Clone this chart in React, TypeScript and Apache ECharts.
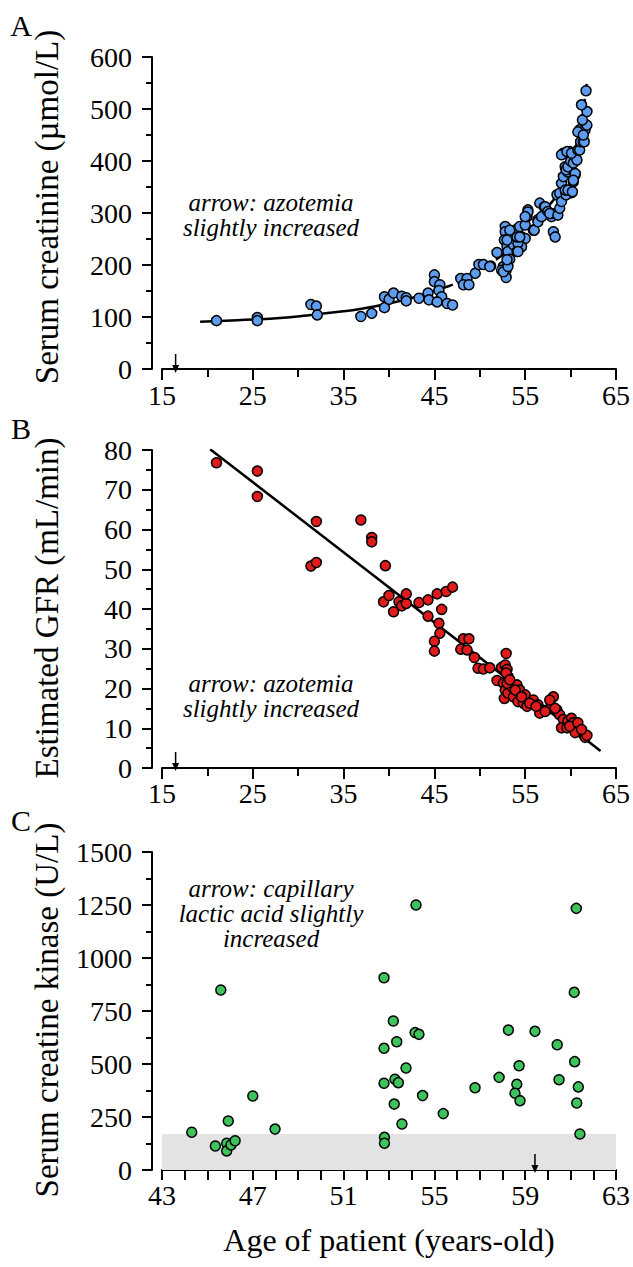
import React, { useEffect, useRef } from "react";
import * as echarts from "echarts";

// ---------- DATA ----------
// Panel A: serum creatinine (µmol/L) vs age
const CREATININE_POINTS: [number, number][] = [
  [21.0, 93], [25.5, 99], [25.5, 93], [31.4, 124], [32.0, 121], [32.1, 104],
  [36.9, 101], [38.1, 107], [39.5, 118], [39.5, 139], [40.0, 134], [40.5, 146],
  [41.4, 140], [41.9, 137], [41.9, 131], [43.3, 136], [44.3, 146], [44.4, 133],
  [45.0, 181], [45.0, 168], [45.6, 162], [45.5, 151], [45.8, 139], [45.3, 129],
  [46.4, 126], [47.0, 123], [47.9, 174], [48.6, 174], [48.2, 162], [48.8, 162],
  [49.5, 184], [49.9, 201], [50.4, 201], [51.2, 198], [51.1, 197], [51.9, 224],
  [52.8, 274], [52.8, 264], [52.7, 248], [53.0, 235], [53.1, 226], [53.3, 211],
  [52.6, 197], [52.9, 190], [52.9, 176], [52.4, 190], [52.6, 187], [53.1, 197],
  [53.0, 210], [53.3, 254], [53.7, 239], [54.1, 226], [53.9, 267], [54.4, 274],
  [54.6, 254], [55.0, 277], [55.2, 293], [55.3, 306], [55.0, 251], [54.6, 235],
  [54.2, 242], [54.1, 254], [53.3, 267], [53.0, 248], [54.2, 226], [55.3, 302],
  [55.0, 293], [54.4, 254], [55.9, 267], [56.0, 267], [56.4, 287], [56.4, 283],
  [56.6, 319], [57.1, 312], [57.2, 312], [56.8, 293], [57.5, 303], [57.9, 293],
  [57.9, 299], [58.1, 264], [58.3, 254], [57.7, 299], [58.6, 296], [58.8, 309],
  [59.0, 325], [58.5, 335], [58.8, 338], [59.0, 322], [59.0, 357], [59.2, 370],
  [59.4, 389], [59.7, 379], [60.5, 373], [60.3, 360], [60.1, 339], [59.5, 335],
  [59.5, 383], [59.7, 389], [60.0, 400], [60.3, 396], [60.5, 376], [60.7, 402],
  [59.4, 344], [59.7, 344], [60.2, 341], [60.3, 363], [59.2, 415], [59.9, 418],
  [59.0, 412], [59.6, 418], [60.1, 415], [60.8, 421], [61.0, 421], [61.1, 437],
  [61.4, 437], [61.5, 437], [61.0, 460], [61.6, 460], [61.8, 469], [61.3, 479],
  [61.8, 495], [61.2, 508], [61.7, 535], [60.8, 456], [61.4, 450],
];
// Fitted curve (solid part, then dashed part)
const CREATININE_CURVE_SOLID: [number, number][] = [
  [19.2, 91], [22, 93], [25, 95], [28, 98], [31, 103], [34, 109], [37, 116],
  [40, 126], [43, 139], [46, 156],
];
const CREATININE_CURVE_DASHED: [number, number][] = [
  [46, 156], [49, 178], [52, 213], [54, 240], [56, 278], [57.5, 312],
  [58.5, 335], [59.5, 372], [60.3, 410], [61, 460], [61.5, 510], [61.8, 555],
];

// Panel B: estimated GFR (mL/min) vs age
const GFR_POINTS: [number, number][] = [
  [21.0, 76.8], [25.5, 74.7], [25.5, 68.3], [32.0, 62.0], [31.4, 50.8], [32.0, 51.7],
  [36.9, 62.4], [38.1, 58.0], [38.1, 56.9], [39.6, 50.9], [39.4, 41.8], [40.0, 43.4],
  [40.5, 39.3], [41.1, 41.8], [41.4, 40.8], [41.9, 41.4], [41.9, 43.8], [43.3, 41.6],
  [44.3, 42.3], [44.3, 38.2], [45.3, 43.8], [46.3, 44.4], [47.0, 45.5], [45.8, 39.9],
  [45.5, 36.4], [45.6, 33.9], [45.0, 31.9], [45.0, 29.4], [48.2, 32.5], [48.8, 32.5],
  [47.9, 29.9], [48.6, 29.7], [49.4, 27.8], [49.8, 25.1], [50.4, 24.9], [51.1, 25.2],
  [51.9, 22.0], [52.9, 28.8], [52.4, 25.3], [52.8, 25.9], [53.0, 24.8], [53.1, 23.0],
  [52.6, 21.3], [52.8, 19.6], [52.7, 17.5], [53.1, 18.8], [53.5, 20.5], [54.1, 20.9],
  [54.4, 19.6], [53.7, 17.9], [54.2, 16.7], [54.8, 16.3], [55.2, 15.5], [55.0, 18.4],
  [55.9, 17.1], [56.4, 15.9], [56.8, 14.6], [56.6, 13.8], [57.4, 14.6], [57.9, 15.5],
  [58.1, 17.9], [57.7, 17.1], [58.5, 14.6], [58.8, 13.4], [59.2, 12.2], [59.0, 10.1],
  [59.7, 11.8], [60.1, 12.5], [60.3, 11.4], [60.7, 10.1], [61.0, 9.3], [61.4, 8.5],
  [61.6, 7.7], [61.8, 8.2], [59.6, 10.1], [60.5, 8.9], [52.9, 23.9], [53.0, 21.3],
  [53.3, 22.2], [53.9, 19.6], [54.6, 17.9], [55.5, 16.3], [56.2, 15.5], [57.2, 14.2],
  [58.3, 15.0], [59.9, 10.5], [60.8, 11.4], [61.2, 9.7],
];
const GFR_FIT: [number, number][] = [[20.3, 80.2], [63.3, 4.3]];

// Panel C: serum creatine kinase (U/L) vs age
const CK_POINTS: [number, number][] = [
  [44.31, 178], [45.59, 849], [45.35, 113], [45.92, 231], [45.85, 126], [45.85, 90],
  [46.04, 118], [46.22, 138], [47.0, 349], [47.98, 193], [52.78, 907], [52.78, 574],
  [52.78, 409], [52.8, 154], [52.8, 126], [53.19, 703], [53.34, 605], [53.23, 311],
  [53.26, 428], [53.41, 412], [53.75, 481], [53.57, 217], [54.19, 1250], [54.15, 648],
  [54.32, 640], [54.48, 351], [55.39, 266], [56.79, 388], [57.85, 437], [58.26, 660],
  [58.73, 492], [58.63, 404], [58.55, 362], [58.77, 327], [59.43, 654], [60.41, 591],
  [60.49, 426], [61.25, 1234], [61.16, 838], [61.18, 511], [61.34, 392], [61.27, 316],
  [61.41, 170],
];
const CK_NORMAL_RANGE = [0, 170];

// Arrow positions (age) for each panel
const ARROW_AGES = [16.5, 16.5, 59.43];

// Tick settings
const X_TICKS_AB = { min: 15, max: 65, interval: 10 };
const X_TICKS_C = { min: 43, max: 63, interval: 1, labelEvery: 4 };
const Y_TICKS = [
  { min: 0, max: 600, interval: 100 },
  { min: 0, max: 80, interval: 10 },
  { min: 0, max: 1500, interval: 250 },
];

const TITLES_Y = [
  "Serum creatinine (µmol/L)",
  "Estimated GFR (mL/min)",
  "Serum creatine kinase (U/L)",
];
const TITLE_X = "Age of patient (years-old)";
const PANEL_LABELS = ["A", "B", "C"];
const NOTES: string[][] = [
  ["arrow: azotemia", "slightly increased"],
  ["arrow: azotemia", "slightly increased"],
  ["arrow: capillary", "lactic acid slightly", "increased"],
];

// ---------- STYLE ----------
const FONT = "Liberation Serif";
const BLUE = "#5e9cf0";
const RED = "#e01b1b";
const GREEN = "#3ec35c";

export default function App() {
  const ref = useRef<HTMLDivElement>(null);

  useEffect(() => {
    if (!ref.current) return;
    const chart = echarts.init(ref.current, undefined, { renderer: "svg" });

    const grids = [
      { left: 162, right: 17, top: 57, height: 312 },
      { left: 162, right: 17, top: 450, height: 318 },
      { left: 162, right: 17, top: 852, height: 318 },
    ];
    const xOffsets = [6, 5, 5];

    const axisLine = { show: true, lineStyle: { color: "#000", width: 2 } };
    const labelStyle = { color: "#000", fontSize: 28, fontFamily: FONT };

    const xAxis = [0, 1, 2].map((i) => {
      const isC = i === 2;
      const t = isC ? X_TICKS_C : X_TICKS_AB;
      return {
        type: "value",
        gridIndex: i,
        min: t.min,
        max: t.max,
        interval: t.interval,
        offset: xOffsets[i],
        axisLine,
        axisTick: { show: true, length: isC ? 10 : 11, lineStyle: { color: "#000", width: 2 } },
        minorTick: isC
          ? { show: false }
          : { show: true, splitNumber: 2, length: 8, lineStyle: { color: "#000", width: 2 } },
        splitLine: { show: false },
        minorSplitLine: { show: false },
        axisLabel: {
          ...labelStyle,
          margin: 6,
          formatter: (v: number) =>
            isC
              ? Math.round(v - X_TICKS_C.min) % X_TICKS_C.labelEvery === 0
                ? String(v)
                : ""
              : String(v),
        },
      };
    });

    const yAxis = [0, 1, 2].map((i) => ({
      type: "value",
      gridIndex: i,
      min: Y_TICKS[i].min,
      max: Y_TICKS[i].max,
      interval: Y_TICKS[i].interval,
      offset: 10,
      axisLine,
      axisTick: { show: true, length: 10, lineStyle: { color: "#000", width: 2 } },
      minorTick: { show: true, splitNumber: 2, length: 6, lineStyle: { color: "#000", width: 2 } },
      splitLine: { show: false },
      minorSplitLine: { show: false },
      axisLabel: { ...labelStyle, margin: 20, formatter: (v: number) => String(v) },
    }));

    const scatterStyle = (c: string) => ({
      color: c,
      borderColor: "#000",
      borderWidth: 1.5,
      opacity: 1,
    });

    const series: any[] = [
      {
        type: "line",
        xAxisIndex: 0,
        yAxisIndex: 0,
        data: CREATININE_CURVE_SOLID,
        smooth: true,
        showSymbol: false,
        lineStyle: { color: "#000", width: 2.5 },
        z: 1,
      },
      {
        type: "line",
        xAxisIndex: 0,
        yAxisIndex: 0,
        data: CREATININE_CURVE_DASHED,
        smooth: true,
        showSymbol: false,
        lineStyle: { color: "#000", width: 2.5, type: [10, 5] },
        z: 1,
      },
      {
        type: "scatter",
        xAxisIndex: 0,
        yAxisIndex: 0,
        data: CREATININE_POINTS,
        symbolSize: 10,
        itemStyle: scatterStyle(BLUE),
        z: 3,
      },
      {
        type: "line",
        xAxisIndex: 1,
        yAxisIndex: 1,
        data: GFR_FIT,
        showSymbol: false,
        lineStyle: { color: "#000", width: 2.5 },
        z: 1,
      },
      {
        type: "scatter",
        xAxisIndex: 1,
        yAxisIndex: 1,
        data: GFR_POINTS,
        symbolSize: 10,
        itemStyle: scatterStyle(RED),
        z: 3,
      },
      {
        type: "scatter",
        xAxisIndex: 2,
        yAxisIndex: 2,
        data: CK_POINTS,
        symbolSize: 10,
        itemStyle: scatterStyle(GREEN),
        z: 3,
        markArea: {
          silent: true,
          itemStyle: { color: "#e3e3e3" },
          data: [
            [
              { xAxis: X_TICKS_C.min, yAxis: CK_NORMAL_RANGE[0] },
              { xAxis: X_TICKS_C.max, yAxis: CK_NORMAL_RANGE[1] },
            ],
          ],
        },
      },
    ];

    chart.setOption({
      animation: false,
      backgroundColor: "#fff",
      grid: grids,
      xAxis,
      yAxis,
      series,
    });

    // graphic: titles, notes, panel labels, arrows
    const g: any[] = [];
    const titleYCenters = [207, 608, 1010];
    TITLES_Y.forEach((t, i) => {
      g.push({
        type: "text",
        x: 47,
        y: titleYCenters[i],
        rotation: Math.PI / 2,
        style: {
          text: t,
          fontSize: 33,
          fontFamily: FONT,
          fill: "#000",
          align: "center",
          verticalAlign: "middle",
        },
      });
    });
    g.push({
      type: "text",
      x: 389,
      y: 1240,
      style: {
        text: TITLE_X,
        fontSize: 32,
        fontFamily: FONT,
        fill: "#000",
        align: "center",
        verticalAlign: "middle",
      },
    });
    const labelY = [25, 428, 820];
    PANEL_LABELS.forEach((t, i) => {
      g.push({
        type: "text",
        x: 21,
        y: labelY[i],
        style: {
          text: t,
          fontSize: 30,
          fontFamily: FONT,
          fill: "#000",
          align: "center",
          verticalAlign: "middle",
        },
      });
    });
    const noteFirstLineY = [202, 683, 888];
    const NOTE_LINE_STEP = 25;
    NOTES.forEach((lines, i) => {
      lines.forEach((line, j) => {
        g.push({
          type: "text",
          x: 271,
          y: noteFirstLineY[i] + j * NOTE_LINE_STEP,
          style: {
            text: line,
            fontSize: 25,
            fontStyle: "italic",
            fontFamily: FONT,
            fill: "#000",
            align: "center",
            verticalAlign: "middle",
          },
        });
      });
    });
    g.push({
      type: "text",
      x: 320,
      y: 1153,
      style: {
        text: "normal",
        fontSize: 25,
        fontStyle: "italic",
        fontFamily: FONT,
        fill: "#000",
        align: "center",
        verticalAlign: "middle",
      },
    });

    ARROW_AGES.forEach((age, i) => {
      const p = chart.convertToPixel({ xAxisIndex: i, yAxisIndex: i }, [age, 0]) as number[];
      if (!p) return;
      const x = p[0];
      const tip = p[1] + xOffsets[i] - 2;
      const top = tip - 19;
      g.push({
        type: "line",
        shape: { x1: x, y1: top, x2: x, y2: tip - 6 },
        style: { stroke: "#000", lineWidth: 1.5 },
        z: 10,
      });
      g.push({
        type: "polygon",
        shape: { points: [[x - 3.5, tip - 8], [x + 3.5, tip - 8], [x, tip]] },
        style: { fill: "#000" },
        z: 10,
      });
    });

    chart.setOption({ graphic: g });

    return () => chart.dispose();
  }, []);

  return (
    <div
      ref={ref}
      style={{ position: "absolute", left: 0, top: 0, width: 633, height: 1267 }}
    />
  );
}
